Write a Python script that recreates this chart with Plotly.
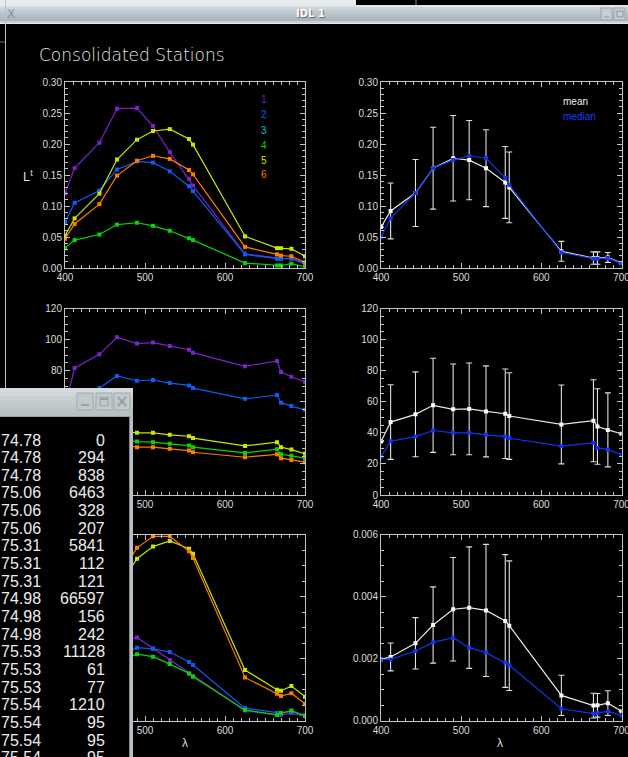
import plotly.graph_objects as go

W, H = 628, 757

# ---------------------------------------------------------------- data
wavelength = [400, 412, 443, 465, 490, 510, 531, 555, 560, 625, 665, 670, 683, 700]

station_ids = ["1", "2", "3", "4", "5", "6"]
station_colors = ["#7b22c8", "#0d5cf2", "#00c8c8", "#06d406", "#c8e400", "#ff7a00"]

# total radiance Lt per station (station 3 has no valid spectrum)
lt_s1 = [0.120, 0.161, 0.202, 0.257, 0.258, 0.229, 0.187, 0.144, 0.133, 0.023, 0.015, 0.015, 0.016, 0.007]
lt_s2 = [0.074, 0.105, 0.125, 0.159, 0.172, 0.170, 0.156, 0.132, 0.124, 0.022, 0.015, 0.015, 0.015, 0.006]
lt_s4 = [0.032, 0.045, 0.054, 0.070, 0.073, 0.068, 0.060, 0.048, 0.045, 0.008, 0.004, 0.004, 0.007, 0.002]
lt_s5 = [0.052, 0.080, 0.120, 0.175, 0.207, 0.221, 0.224, 0.208, 0.199, 0.051, 0.032, 0.032, 0.031, 0.019]
lt_s6 = [0.047, 0.071, 0.103, 0.149, 0.173, 0.181, 0.176, 0.158, 0.151, 0.034, 0.022, 0.020, 0.019, 0.009]

# downwelling irradiance Es per station
es_s1 = [57.0, 81.7, 90.5, 101.5, 97.4, 98.1, 95.9, 93.5, 91.6, 82.8, 86.2, 79.1, 76.1, 72.7]
es_s2 = [43.5, 62.0, 68.8, 76.6, 73.5, 74.0, 72.0, 70.5, 68.8, 61.9, 64.3, 59.4, 57.2, 54.8]
es_s4 = [23.5, 29.8, 33.0, 36.2, 34.4, 34.0, 32.9, 31.8, 30.8, 27.1, 29.5, 26.2, 25.2, 23.7]
es_s5 = [24.6, 34.6, 37.6, 41.5, 40.0, 40.0, 38.7, 37.8, 36.6, 31.6, 34.0, 30.8, 29.2, 26.5]
es_s6 = [21.5, 26.4, 29.6, 32.7, 30.8, 30.8, 29.7, 28.6, 27.5, 24.3, 26.2, 23.7, 22.6, 21.1]

# Lt / Es per station
ratio_s1 = [0.00210, 0.00197, 0.00223, 0.00253, 0.00268, 0.00233, 0.00195, 0.00152, 0.00144, 0.00032, 0.00018, 0.00018, 0.00024, 0.00013]
ratio_s2 = [0.00170, 0.00169, 0.00182, 0.00208, 0.00235, 0.00231, 0.00221, 0.00189, 0.00179, 0.00040, 0.00024, 0.00024, 0.00029, 0.00017]
ratio_s4 = [0.00136, 0.00151, 0.00164, 0.00193, 0.00214, 0.00206, 0.00182, 0.00152, 0.00141, 0.00034, 0.00018, 0.00024, 0.00032, 0.00015]
ratio_s5 = [0.00211, 0.00231, 0.00319, 0.00422, 0.00522, 0.00561, 0.00579, 0.00554, 0.00538, 0.00163, 0.00099, 0.00096, 0.00111, 0.00077]
ratio_s6 = [0.00219, 0.00269, 0.00348, 0.00456, 0.00557, 0.00594, 0.00594, 0.00546, 0.00524, 0.00139, 0.00086, 0.00079, 0.00088, 0.00054]

# consolidated statistics
lt_mean = [0.066, 0.092, 0.121, 0.161, 0.177, 0.174, 0.161, 0.138, 0.130, 0.027, 0.016, 0.016, 0.017, 0.008]
lt_median = [0.050, 0.080, 0.121, 0.161, 0.174, 0.181, 0.177, 0.145, 0.134, 0.025, 0.015, 0.015, 0.016, 0.007]
lt_std = [None, 0.045, 0.054, 0.066, 0.069, 0.064, 0.062, 0.058, 0.057, 0.016, 0.010, 0.010, 0.008, None]

es_mean = [34.4, 46.9, 51.9, 57.7, 55.1, 55.4, 53.8, 52.3, 50.8, 45.4, 47.8, 44.1, 41.9, 39.4]
es_median = [24.6, 34.6, 37.6, 41.5, 40.0, 40.0, 38.7, 37.6, 36.5, 31.4, 33.5, 30.3, 29.2, 25.9]
es_std = [None, 24.0, 27.3, 30.3, 29.2, 29.5, 29.3, 28.8, 27.9, 25.4, 26.4, 24.3, 23.8, None]

ratio_mean = [0.00197, 0.00205, 0.00249, 0.00308, 0.00359, 0.00364, 0.00355, 0.00321, 0.00306, 0.00081, 0.00048, 0.00049, 0.00056, 0.00030]
ratio_median = [0.00197, 0.00197, 0.00224, 0.00252, 0.00267, 0.00235, 0.00219, 0.00187, 0.00178, 0.00038, 0.00022, 0.00024, 0.00030, 0.00016]
ratio_std = [None, 0.00045, 0.00083, 0.00123, 0.00167, 0.00196, 0.00213, 0.00214, 0.00209, 0.00065, 0.00040, 0.00038, 0.00040, None]

# text listing in the terminal window
list_col1 = ["74.78", "74.78", "74.78", "75.06", "75.06", "75.06", "75.31", "75.31", "75.31",
             "74.98", "74.98", "74.98", "75.53", "75.53", "75.53", "75.54", "75.54", "75.54", "75.54"]
list_col2 = ["0", "294", "838", "6463", "328", "207", "5841", "112", "121",
             "66597", "156", "242", "11128", "61", "77", "1210", "95", "95", "95"]

# ---------------------------------------------------------------- helpers
AX = "#c4c4c4"
TXT = "#dcdcdc"
FONT = "Liberation Sans"


def px(x):
    return x / W


def py(y):
    return 1 - y / H


shapes = []
annotations = []


def rect(x0, y0, x1, y1, fill, line=None, lw=1, layer="above"):
    shapes.append(dict(type="rect", xref="paper", yref="paper",
                       x0=px(x0), x1=px(x1), y0=py(y1), y1=py(y0),
                       fillcolor=fill, layer=layer,
                       line=dict(color=line or fill, width=lw if line else 0)))


def seg(x0, y0, x1, y1, color, lw=1):
    shapes.append(dict(type="line", xref="paper", yref="paper",
                       x0=px(x0), x1=px(x1), y0=py(y0), y1=py(y1),
                       layer="above", line=dict(color=color, width=lw)))


def text(x, y, s, size=11, color=TXT, xanchor="left", family=FONT, **kw):
    annotations.append(dict(x=px(x), y=py(y), xref="paper", yref="paper", text=s,
                            showarrow=False, xanchor=xanchor, yanchor="middle",
                            font=dict(family=family, size=size, color=color, **kw),
                            borderpad=0))


# ---------------------------------------------------------------- axes
fig = go.Figure()

COLS = [(65, 305), (381, 621.5)]
ROWS = [(82, 268), (308.5, 495), (534.5, 720.5)]
y_ranges = [[0, 0.30], [0, 120], [0, 0.006]]
y_dticks = [0.05, 20, 0.002]
y_minor = [0.01, 5, 0.0005]
y_formats = [".2f", "d", ".3f"]

axis_common = dict(showline=True, linecolor=AX, linewidth=1, mirror="allticks",
                   ticks="inside", ticklen=5, tickwidth=1, tickcolor=AX,
                   showgrid=False, zeroline=False, fixedrange=True, automargin=False,
                   tickfont=dict(family=FONT, size=10, color=TXT))

layout_axes = {}
for r in range(3):
    for c in range(2):
        i = r * 2 + c + 1
        sfx = "" if i == 1 else str(i)
        x0, x1 = COLS[c]
        y0, y1 = ROWS[r]
        layout_axes["xaxis" + sfx] = dict(
            domain=[px(x0), px(x1)], anchor="y" + sfx, range=[400, 700],
            tick0=400, dtick=100, ticklabeloverflow="allow",
            minor=dict(dtick=10, tick0=400, ticks="inside", ticklen=3, tickcolor=AX, showgrid=False),
            **axis_common)
        layout_axes["yaxis" + sfx] = dict(
            domain=[py(y1), py(y0)], anchor="x" + sfx, range=y_ranges[r],
            tick0=0, dtick=y_dticks[r], tickformat=y_formats[r],
            minor=dict(dtick=y_minor[r], tick0=0, ticks="inside", ticklen=3, tickcolor=AX, showgrid=False),
            **axis_common)

# labels of the lower-left y axis sit entirely under the terminal window
layout_axes["yaxis5"]["showticklabels"] = False

# ---------------------------------------------------------------- traces
station_sets = [
    {"1": lt_s1, "2": lt_s2, "4": lt_s4, "5": lt_s5, "6": lt_s6},
    {"1": es_s1, "2": es_s2, "4": es_s4, "5": es_s5, "6": es_s6},
    {"1": ratio_s1, "2": ratio_s2, "4": ratio_s4, "5": ratio_s5, "6": ratio_s6},
]
stat_sets = [
    (lt_mean, lt_median, lt_std),
    (es_mean, es_median, es_std),
    (ratio_mean, ratio_median, ratio_std),
]

draw_order = ["1", "2", "5", "4", "6"]
for r in range(3):
    left = r * 2 + 1
    xa = "x" if left == 1 else "x" + str(left)
    ya = "y" if left == 1 else "y" + str(left)
    for sid in draw_order:
        col = station_colors[station_ids.index(sid)]
        fig.add_trace(go.Scatter(
            x=wavelength, y=station_sets[r][sid], xaxis=xa, yaxis=ya,
            mode="lines+markers", line=dict(color=col, width=1.2),
            marker=dict(symbol="square", size=4, color=col),
            showlegend=False, hoverinfo="skip"))

    right = left + 1
    xa = "x" + str(right)
    ya = "y" + str(right)
    mean, median, std = stat_sets[r]
    fig.add_trace(go.Scatter(
        x=wavelength, y=mean, xaxis=xa, yaxis=ya, mode="lines+markers",
        line=dict(color="#e8e8e8", width=1.2),
        marker=dict(symbol="square", size=4, color="#ffffff"),
        error_y=dict(type="data", array=std, symmetric=True,
                     color="#e0e0e0", thickness=1.1, width=3),
        showlegend=False, hoverinfo="skip"))
    fig.add_trace(go.Scatter(
        x=wavelength, y=median, xaxis=xa, yaxis=ya, mode="lines+markers",
        line=dict(color="#1034f0", width=1.2),
        marker=dict(symbol="square", size=4, color="#1034f0"),
        showlegend=False, hoverinfo="skip"))

# ---------------------------------------------------------------- labels
text(38, 55, "Consolidated Stations", size=17, color="#e6e6e6",
     family="DejaVu Sans", weight=300)
text(28, 176, "L<sup>t</sup>", size=13, color=TXT, xanchor="center")
for k, sid in enumerate(station_ids):
    text(260, 100 + 15 * k, sid, size=10, color=station_colors[k])
text(562, 101.5, "mean", size=10, color="#f0f0f0")
text(562, 116, "median", size=10, color="#1a3cff")
text(185, 743, "λ", size=12, color=TXT, xanchor="center")
text(500, 743, "λ", size=12, color=TXT, xanchor="center")

# ---------------------------------------------------------------- window chrome
# strip above the title bar
rect(0, 0, 356, 5, "#e8ecee")
rect(356, 0, 628, 5, "#000000")
seg(416, 0, 416, 5, "#8a8a8a")
# title bar of the plotting window
bar = ["#dfe5e8", "#ccd5da", "#c5cfd4", "#bfc9cf", "#b9c3ca", "#b4bec5", "#afb9c0", "#abb5bc", "#c9d1d6"]
for k, cc in enumerate(bar):
    rect(0, 5 + 2 * k, 628, 7 + 2 * k, cc)
seg(0, 23.5, 628, 23.5, "#e2e6e8")
text(11, 14, "X", size=12, color="#86919a", xanchor="center", family="DejaVu Sans")
text(310, 14, "IDL 1", size=10, color="#ffffff", xanchor="center", family="DejaVu Sans",
     weight="bold", shadow="1px 1px 1px #5a666e")
for bx in (601, 614):
    rect(bx, 8, bx + 11, 20, "#c6ced3", line="#9aa4ab")
seg(604, 17, 609, 17, "#8a949a")
rect(617, 11, 623, 17, "rgba(0,0,0,0)", line="#8a949a")
# left frame of the plotting window
seg(5.5, 0, 5.5, 388, "#b8c0c4")
seg(0, 42, 5, 42, "#6a6a6a")

# terminal window overlapping the lower-left panels
rect(0, 415, 130, 757, "#000000")
tbar = ["#d6dbde", "#cfd5d8", "#c9cfd3", "#c4cace", "#c0c6ca", "#bcc3c7", "#b9c0c4"]
for k, cc in enumerate(tbar):
    rect(0, 388 + 4 * k, 133, 392 + 4 * k, cc)
rect(0, 416, 133, 417, "#9aa2a6")
rect(129.5, 416, 133, 757, "#b9c0c4")
seg(129.5, 416, 129.5, 757, "#7e868a")
for bx in (77, 96, 114):
    rect(bx, 393, bx + 16, 410, "#c2c9cd", line="#a2aaae")
seg(81, 405, 89, 405, "#9aa2a6", lw=2)
rect(100, 397, 108, 406, "rgba(0,0,0,0)", line="#9aa2a6")
seg(100, 399, 108, 399, "#9aa2a6", lw=2)
seg(118, 397, 126, 406, "#9aa2a6", lw=2)
seg(126, 397, 118, 406, "#9aa2a6", lw=2)

for k, (a, b) in enumerate(zip(list_col1, list_col2)):
    yy = 440 + 17.65 * k
    text(42, yy, a, size=16, color="#ececec", xanchor="right")
    text(106, yy, b, size=16, color="#ececec", xanchor="right")

fig.update_layout(
    width=W, height=H, autosize=False,
    margin=dict(l=0, r=0, t=0, b=0, pad=0, autoexpand=False),
    paper_bgcolor="#000000", plot_bgcolor="#000000",
    showlegend=False, shapes=shapes, annotations=annotations,
    **layout_axes)

fig.write_html("out.html", config={"displayModeBar": False})
